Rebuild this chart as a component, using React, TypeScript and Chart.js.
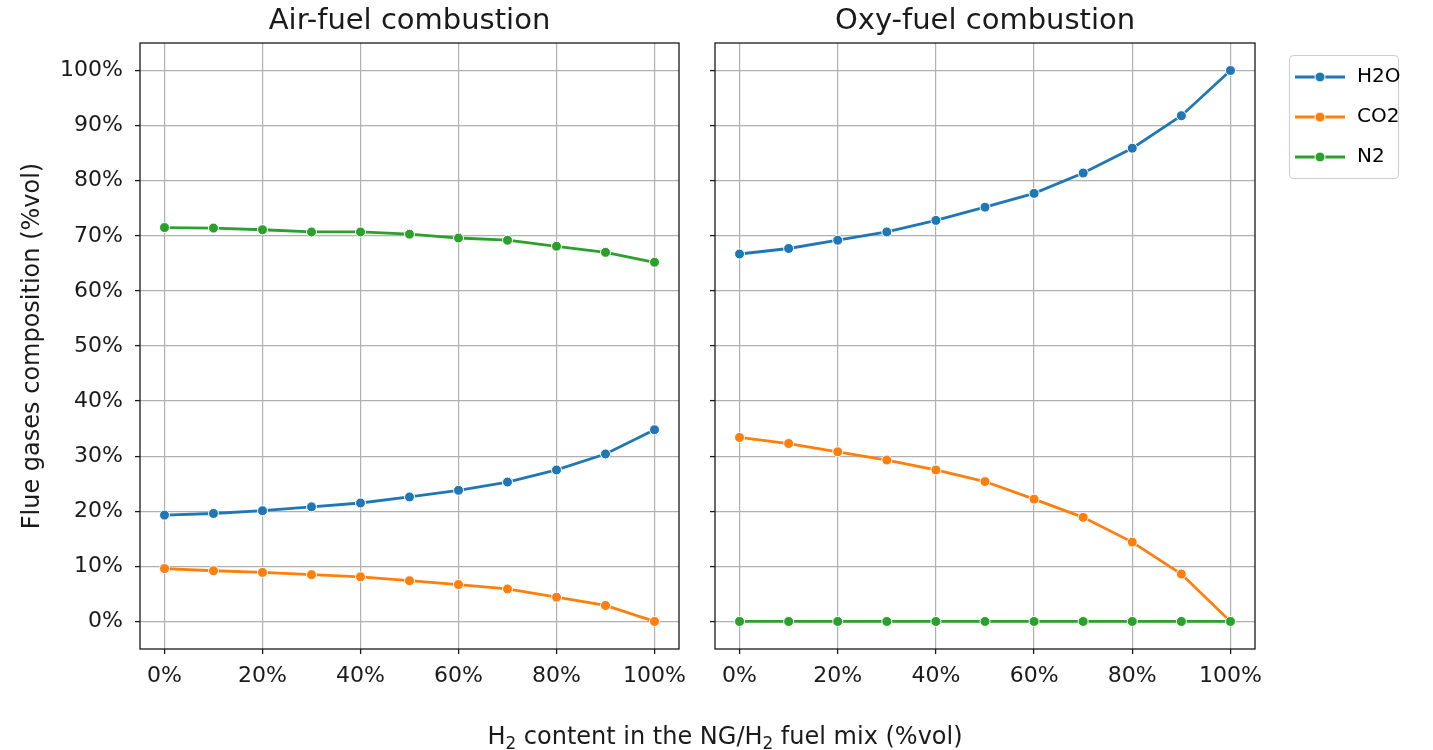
import { useEffect, useRef } from "react";
import { Chart, registerables } from "chart.js";

Chart.register(...registerables);

// H2 share in the NG/H2 fuel blend (%vol)
const H2_CONTENT = [0, 10, 20, 30, 40, 50, 60, 70, 80, 90, 100];

// Flue gas composition, air-fuel combustion (%vol)
const AIR_H2O = [19.3, 19.6, 20.1, 20.8, 21.5, 22.6, 23.8, 25.3, 27.5, 30.4, 34.8];
const AIR_CO2 = [9.6, 9.2, 8.9, 8.5, 8.1, 7.4, 6.7, 5.9, 4.4, 2.9, 0];
const AIR_N2 = [71.5, 71.4, 71.1, 70.7, 70.7, 70.3, 69.6, 69.2, 68.1, 67.0, 65.2];

// Flue gas composition, oxy-fuel combustion (%vol)
const OXY_H2O = [66.7, 67.7, 69.2, 70.7, 72.8, 75.2, 77.7, 81.4, 85.9, 91.8, 100];
const OXY_CO2 = [33.4, 32.3, 30.8, 29.3, 27.5, 25.4, 22.2, 18.9, 14.4, 8.6, 0];
const OXY_N2 = [0, 0, 0, 0, 0, 0, 0, 0, 0, 0, 0];

const GASES = ["H2O", "CO2", "N2"];
const X_TICKS = [0, 20, 40, 60, 80, 100];
const Y_TICKS = [0, 10, 20, 30, 40, 50, 60, 70, 80, 90, 100];

const COLORS = ["#1f77b4", "#ff7f0e", "#2ca02c"];
const INK = "#1a1a1a";
const GRID = "#b0b0b0";
const FONT = "'DejaVu Sans', sans-serif";

// Legend handle: short line with a marker in the middle
function makeHandle(color: string): HTMLCanvasElement {
  const c = document.createElement("canvas");
  c.width = 54;
  c.height = 14;
  const ctx = c.getContext("2d")!;
  ctx.strokeStyle = color;
  ctx.lineWidth = 2.8;
  ctx.beginPath();
  ctx.moveTo(2, 7);
  ctx.lineTo(52, 7);
  ctx.stroke();
  ctx.beginPath();
  ctx.arc(27, 7, 5, 0, Math.PI * 2);
  ctx.fillStyle = color;
  ctx.fill();
  ctx.lineWidth = 1;
  ctx.strokeStyle = "#ffffff";
  ctx.stroke();
  return c;
}

// Axes box drawn around the plotting area
const framePlugin = {
  id: "axesFrame",
  afterDatasetsDraw(chart: any) {
    const { ctx, chartArea: a } = chart;
    ctx.save();
    ctx.strokeStyle = INK;
    ctx.lineWidth = 1.3;
    ctx.strokeRect(a.left, a.top, a.right - a.left, a.bottom - a.top);
    ctx.restore();
  },
};

// Places the legend box to the right of the plot, with a rounded frame
const LEGEND_LEFT = 573;
const LEGEND_TOP = 47;
const legendPlacement = {
  id: "legendPlacement",
  afterLayout(chart: any) {
    const lg = chart.legend;
    if (!lg || !lg.options.display) return;
    lg.left = LEGEND_LEFT;
    lg.top = LEGEND_TOP;
    lg.width = 160;
    lg.height = 200;
    lg.right = lg.left + lg.width;
    lg.bottom = lg.top + lg.height;
  },
  beforeDraw(chart: any) {
    const lg = chart.legend;
    if (!lg || !lg.options.display) return;
    const ctx = chart.ctx;
    const x = LEGEND_LEFT + 16.5;
    const y = 55.5;
    const w = 109;
    const h = 123;
    ctx.save();
    ctx.beginPath();
    ctx.roundRect(x, y, w, h, 4);
    ctx.fillStyle = "rgba(255,255,255,0.8)";
    ctx.fill();
    ctx.strokeStyle = "#cccccc";
    ctx.lineWidth = 1;
    ctx.stroke();
    ctx.restore();
  },
};

function buildConfig(
  title: string,
  series: number[][],
  withYLabels: boolean,
  withLegend: boolean,
  rightPad: number,
  handles: HTMLCanvasElement[]
): any {
  const datasets = series.map((values, i) => ({
    label: GASES[i],
    data: values.map((v, j) => ({ x: H2_CONTENT[j], y: v })),
    borderColor: COLORS[i],
    backgroundColor: COLORS[i],
    borderWidth: 2.8,
    pointRadius: 5,
    pointBackgroundColor: COLORS[i],
    pointBorderColor: "#ffffff",
    pointBorderWidth: 1,
    tension: 0,
    order: series.length - i,
  }));

  return {
    type: "line",
    data: { datasets },
    options: {
      animation: false,
      responsive: false,
      events: [],
      layout: { padding: { left: 0, top: 0, right: rightPad, bottom: 0 }, autoPadding: false },
      plugins: {
        title: {
          display: true,
          fullSize: false,
          text: title,
          color: INK,
          font: { family: FONT, size: 29, weight: "normal", lineHeight: 1.2 },
          padding: { top: 3.6, bottom: 4.6 },
        },
        legend: withLegend
          ? {
              display: true,
              position: "chartArea",
              align: "start",
              labels: {
                usePointStyle: true,
                pointStyleWidth: 54,
                boxHeight: 20,
                padding: 20,
                color: INK,
                font: { family: FONT, size: 20 },
                generateLabels: (chart: any) =>
                  chart.data.datasets.map((ds: any, i: number) => ({
                    text: ds.label,
                    pointStyle: handles[i],
                    fillStyle: COLORS[i],
                    strokeStyle: COLORS[i],
                    lineWidth: 0,
                    hidden: false,
                    datasetIndex: i,
                  })),
              },
            }
          : { display: false },
        tooltip: { enabled: false },
      },
      scales: {
        x: {
          type: "linear",
          min: -5,
          max: 105,
          afterBuildTicks: (s: any) => {
            s.ticks = X_TICKS.map((v) => ({ value: v }));
          },
          afterFit: (s: any) => {
            s.height = 101;
          },
          border: { display: false },
          grid: {
            color: GRID,
            lineWidth: 1.2,
            drawTicks: true,
            tickLength: 5,
            tickColor: INK,
            tickWidth: 1.3,
          },
          ticks: {
            color: INK,
            padding: 9,
            maxRotation: 0,
            autoSkip: false,
            font: { family: FONT, size: 22 },
            callback: (v: number) => `${v}%`,
          },
        },
        y: {
          type: "linear",
          min: -5,
          max: 105,
          afterBuildTicks: (s: any) => {
            s.ticks = Y_TICKS.map((v) => ({ value: v }));
          },
          afterFit: (s: any) => {
            s.width = withYLabels ? 140 : 15;
          },
          border: { display: false },
          grid: {
            color: GRID,
            lineWidth: 1.2,
            drawTicks: true,
            tickLength: 5,
            tickColor: INK,
            tickWidth: 1.3,
          },
          ticks: {
            display: withYLabels,
            color: INK,
            padding: 12,
            autoSkip: false,
            font: { family: FONT, size: 22 },
            callback: (v: number) => `${v}%`,
          },
          title: {
            display: withYLabels,
            text: "Flue gases composition (%vol)",
            color: INK,
            font: { family: FONT, size: 24, lineHeight: 1.2 },
            padding: { top: 18.6, bottom: 0 },
          },
        },
      },
    },
    plugins: [framePlugin, legendPlacement],
  };
}

export default function App() {
  const airRef = useRef<HTMLCanvasElement>(null);
  const oxyRef = useRef<HTMLCanvasElement>(null);

  useEffect(() => {
    const handles = COLORS.map(makeHandle);
    const air = new Chart(
      airRef.current!,
      buildConfig("Air-fuel combustion", [AIR_H2O, AIR_CO2, AIR_N2], true, false, 21, handles)
    );
    const oxy = new Chart(
      oxyRef.current!,
      buildConfig("Oxy-fuel combustion", [OXY_H2O, OXY_CO2, OXY_N2], false, true, 178, handles)
    );
    return () => {
      air.destroy();
      oxy.destroy();
    };
  }, []);

  return (
    <div
      style={{
        position: "fixed",
        left: 0,
        top: 0,
        width: 1433,
        height: 750,
        overflow: "hidden",
        background: "#ffffff",
      }}
    >
      <canvas
        ref={airRef}
        width={700}
        height={750}
        style={{ position: "absolute", left: 0, top: 0, width: 700, height: 750 }}
      />
      <canvas
        ref={oxyRef}
        width={733}
        height={750}
        style={{ position: "absolute", left: 700, top: 0, width: 733, height: 750 }}
      />
      <div
        style={{
          position: "absolute",
          left: 725,
          top: 722,
          transform: "translateX(-50%)",
          whiteSpace: "nowrap",
          fontFamily: FONT,
          fontSize: 24,
          lineHeight: "28px",
          color: INK,
        }}
      >
        H<sub style={{ fontSize: "70%", lineHeight: 0, verticalAlign: "-0.3em" }}>2</sub> content in the NG/H
        <sub style={{ fontSize: "70%", lineHeight: 0, verticalAlign: "-0.3em" }}>2</sub> fuel mix (%vol)
      </div>
    </div>
  );
}
